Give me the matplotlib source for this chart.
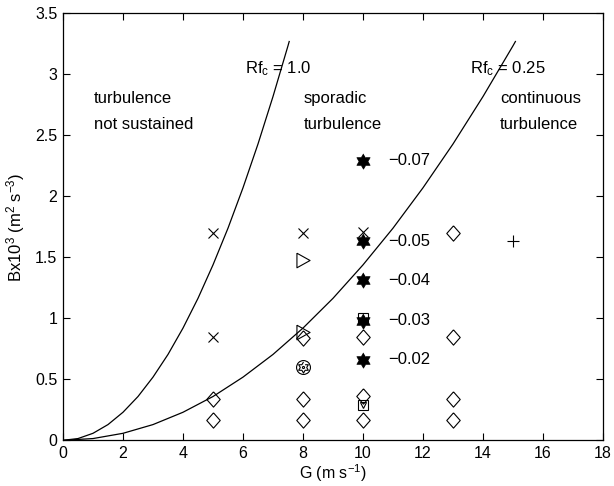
import matplotlib
matplotlib.use("Agg")
import matplotlib.pyplot as plt
import numpy as np

plt.rcParams['font.family'] = ['Liberation Sans', 'DejaVu Sans']
plt.rcParams['mathtext.default'] = 'regular'

# critical flux Richardson number curves
curve_B = [0, 0.0144, 0.0575, 0.129, 0.230, 0.359, 0.518, 0.704, 0.920,
           1.164, 1.438, 1.739, 2.070, 2.429, 2.818, 3.234, 3.269]
curve_G_rf100 = [0, 0.5, 1, 1.5, 2, 2.5, 3, 3.5, 4, 4.5, 5, 5.5, 6, 6.5, 7, 7.5, 7.54]
curve_G_rf025 = [0, 1, 2, 3, 4, 5, 6, 7, 8, 9, 10, 11, 12, 13, 14, 15, 15.08]

# observations
cross_G = [5, 5, 8, 10]
cross_B = [1.70, 0.85, 1.70, 1.71]
diam_G = [5, 5, 8, 8, 8, 10, 10, 10, 13, 13, 13, 13]
diam_B = [0.34, 0.17, 0.84, 0.34, 0.17, 0.845, 0.36, 0.17, 1.70, 0.85, 0.34, 0.17]
tri_G = [8, 8]
tri_B = [1.48, 0.89]
sq_G = [10, 10]
sq_B = [1.0, 0.29]
plus_G = [15]
plus_B = [1.63]
circ_G = [8]
circ_B = [0.60]
star_G = [10, 10, 10, 10, 10]
star_B = [2.29, 1.63, 1.31, 0.98, 0.66]
star_labels = ['\u22120.07', '\u22120.05', '\u22120.04', '\u22120.03', '\u22120.02']

# marker shapes
ang = np.deg2rad(np.arange(12) * 30 + 90)
rad = np.where(np.arange(12) % 2 == 0, 1.0, 1 / np.sqrt(3))
hexagram = list(zip(rad * np.cos(ang), rad * np.sin(ang)))
diamond = [(0, 0.5), (0.44, 0), (0, -0.5), (-0.44, 0), (0, 0.5)]
tri_right = [(-0.45, 0.5), (0.45, 0), (-0.45, -0.5), (-0.45, 0.5)]

fig = plt.figure(figsize=(6.14, 4.86), dpi=100)
ax = fig.add_axes([0.1026, 0.094, 0.8795, 0.8786])

ax.plot(curve_G_rf100, curve_B, color='k', lw=0.9)
ax.plot(curve_G_rf025, curve_B, color='k', lw=0.9)

mk = dict(ls='none', color='k', mfc='none', mew=0.8)
ax.plot(cross_G, cross_B, marker='x', ms=7, **mk)
ax.plot(diam_G, diam_B, marker=diamond, ms=11, **mk)
ax.plot(tri_G, tri_B, marker=tri_right, ms=10.5, **mk)
ax.plot(sq_G, sq_B, marker='s', ms=7, **mk)
ax.plot([sq_G[1]], [sq_B[1]], marker='v', ms=5, **mk)
ax.plot(plus_G, plus_B, marker='+', ms=9, **mk)
ax.plot(circ_G, circ_B, marker='o', ms=10, **mk)
ax.plot(circ_G, circ_B, marker=hexagram, ms=8, **mk)
ax.plot(circ_G, circ_B, marker='.', ms=3, **mk)
ax.plot(star_G, star_B, marker=hexagram, ms=11, ls='none', color='k', mfc='k', mew=0.5)

fs = 12
for b, lab in zip(star_B, star_labels):
    ax.text(10.83, b, lab, fontsize=fs, ha='left', va='center')

ax.text(6.07, 3.05, 'Rf$_c$ = 1.0', fontsize=fs, ha='left', va='center')
ax.text(13.57, 3.05, 'Rf$_c$ = 0.25', fontsize=fs, ha='left', va='center')
ax.text(1.03, 2.80, 'turbulence', fontsize=fs, ha='left', va='center')
ax.text(1.03, 2.59, 'not sustained', fontsize=fs, ha='left', va='center')
ax.text(8.03, 2.80, 'sporadic', fontsize=fs, ha='left', va='center')
ax.text(8.03, 2.59, 'turbulence', fontsize=fs, ha='left', va='center')
ax.text(14.57, 2.80, 'continuous', fontsize=fs, ha='left', va='center')
ax.text(14.57, 2.59, 'turbulence', fontsize=fs, ha='left', va='center')

ax.set_xlim(0, 18)
ax.set_ylim(0, 3.5)
ax.set_xticks(np.arange(0, 19, 2))
ax.set_yticks(np.arange(0, 3.51, 0.5))
ax.set_yticklabels(['0', '0.5', '1', '1.5', '2', '2.5', '3', '3.5'])
ax.tick_params(direction='in', top=True, right=True, length=5, width=0.8,
               labelsize=11.5, pad=4)
for s in ax.spines.values():
    s.set_linewidth(0.9)

ax.set_xlabel('G (m s$^{-1}$)', fontsize=11.5, labelpad=1)
ax.set_ylabel('Bx10$^{3}$ (m$^{2}$ s$^{-3}$)', fontsize=12, labelpad=6)

fig.savefig('out.png', dpi=100)
